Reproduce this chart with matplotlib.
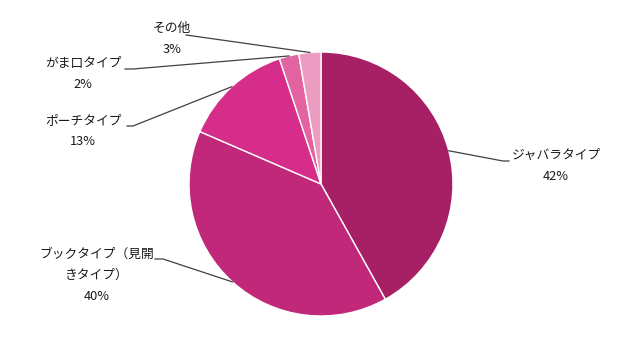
import numpy as np
import matplotlib.pyplot as plt

plt.rcParams['font.family'] = ['Noto Sans CJK JP', 'DejaVu Sans']

labels = ['ジャバラタイプ', 'ブックタイプ（見開\nきタイプ）', 'ポーチタイプ', 'がま口タイプ', 'その他']
values = [41.9, 39.6, 13.4, 2.4, 2.7]
colors = ['#A72066', '#C1287A', '#D62D8A', '#E2639F', '#EB9CC0']

# label text centre (pixel coords, y from top) and leader elbow / end
text_pos = [(556, 166), (97, 275), (83, 131), (83, 74), (172, 39)]
elbows = [[(503, 161), (509, 161)],
          [(163, 259), (155, 259)],
          [(133, 126), (127, 126)],
          [(133, 69), (125, 69)],
          [(186, 35)]]

W, H = 640, 343
fig = plt.figure(figsize=(6.4, 3.43), dpi=100)
ax = fig.add_axes([0, 0, 1, 1])

cx, cy, r = 321, H - 184, 132
wedges, _ = ax.pie(values, colors=colors, startangle=90, counterclock=False,
                   center=(cx, cy), radius=r, frame=True,
                   wedgeprops=dict(edgecolor='white', linewidth=1))
ax.set_xlim(0, W)
ax.set_ylim(0, H)
ax.set_aspect('equal')
ax.axis('off')

for w, lab, v, tp, el in zip(wedges, labels, values, text_pos, elbows):
    mid = np.deg2rad((w.theta1 + w.theta2) / 2)
    ex, ey = cx + r * np.cos(mid), cy + r * np.sin(mid)
    xs = [ex] + [p[0] for p in el]
    ys = [ey] + [H - p[1] for p in el]
    ax.plot(xs, ys, color='#404040', lw=0.9)
    ax.text(tp[0], H - tp[1], f'{lab}\n{round(v)}%', ha='center', va='center',
            fontsize=9.2, color='#1a1a1a', linespacing=1.8)

fig.savefig('out.png', dpi=100)
